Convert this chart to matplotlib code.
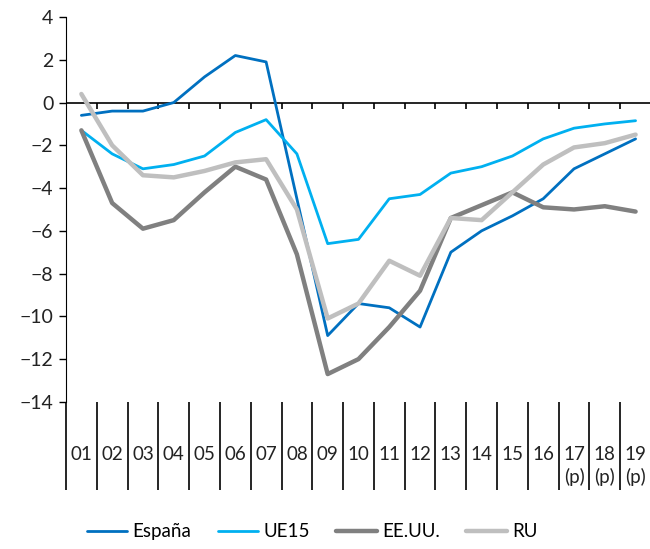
import numpy as np
import matplotlib
matplotlib.use('Agg')
import matplotlib.pyplot as plt
import matplotlib.transforms as mtransforms

# years (labels under the axis) and balance values
years = ['01', '02', '03', '04', '05', '06', '07', '08', '09', '10',
         '11', '12', '13', '14', '15', '16', '17\n(p)', '18\n(p)', '19\n(p)']
espana = [-0.6, -0.4, -0.4, 0.0, 1.2, 2.2, 1.9, -4.5, -10.9, -9.4,
          -9.6, -10.5, -7.0, -6.0, -5.3, -4.5, -3.1, -2.4, -1.7]
ue15 = [-1.3, -2.4, -3.1, -2.9, -2.5, -1.4, -0.8, -2.4, -6.6, -6.4,
        -4.5, -4.3, -3.3, -3.0, -2.5, -1.7, -1.2, -1.0, -0.85]
eeuu = [-1.3, -4.7, -5.9, -5.5, -4.2, -3.0, -3.6, -7.1, -12.7, -12.0,
        -10.5, -8.8, -5.4, -4.8, -4.2, -4.9, -5.0, -4.85, -5.1]
ru = [0.4, -2.0, -3.4, -3.5, -3.2, -2.8, -2.65, -5.0, -10.1, -9.4,
      -7.4, -8.1, -5.4, -5.5, -4.2, -2.9, -2.1, -1.9, -1.5]

plt.rcParams['font.family'] = ['Lato', 'DejaVu Sans']

fig = plt.figure(figsize=(6.5, 5.49), dpi=100)
ax = fig.add_axes([0.1015, 0.268, 0.9, 0.701])

x = np.arange(len(years))
ax.plot(x, espana, color='#0070C0', lw=2.0, label='España', solid_capstyle='round')
ax.plot(x, ue15, color='#00B0F0', lw=2.0, label='UE15', solid_capstyle='round')
ax.plot(x, eeuu, color='#808080', lw=3.2, label='EE.UU.', solid_capstyle='round')
ax.plot(x, ru, color='#BFBFBF', lw=3.2, label='RU', solid_capstyle='round')

ax.set_xlim(-0.5, len(years) - 0.5)
ax.set_ylim(-14, 4)
ax.set_yticks(np.arange(-14, 5, 2))
ax.set_xticks([])
ax.tick_params(axis='y', length=5, width=1, labelsize=14, pad=4,
               color='black', labelcolor='#222222')

for s in ['top', 'right', 'bottom']:
    ax.spines[s].set_visible(False)
ax.spines['left'].set_color('black')

# horizontal axis at zero with small tick marks
ax.axhline(0, color='black', lw=1.2, zorder=1)
bounds = np.arange(len(years) - 1) + 0.5
ax.vlines(bounds, -0.28, 0, color='black', lw=1.2, zorder=1)

# category separators below the plot
trans = mtransforms.blended_transform_factory(ax.transData, ax.transAxes)
ax.vlines(np.append(bounds, -0.5), -0.229, 0, transform=trans,
          color='black', lw=1.2, clip_on=False)
for xi, lab in zip(x, years):
    ax.text(xi, -0.115, lab, transform=trans, ha='center', va='top',
            fontsize=13.5, color='#222222', linespacing=1.35)

fig.legend(loc='center', bbox_to_anchor=(0.48, 0.031), ncol=4, frameon=False,
           fontsize=13.5, handlelength=2.15, handletextpad=0.3, columnspacing=1.4)

fig.savefig('out.png', dpi=100)
